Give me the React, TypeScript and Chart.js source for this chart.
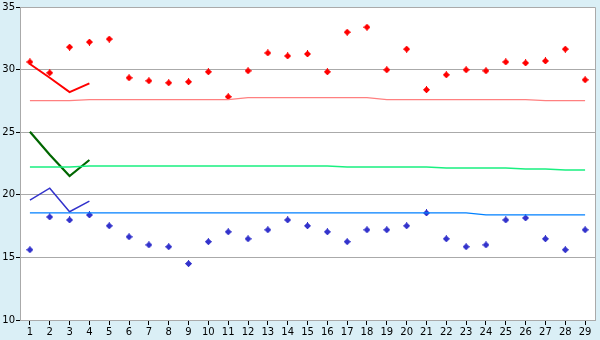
import React, { useEffect, useRef } from "react";
import { Chart, registerables } from "chart.js";

Chart.register(...registerables);

const categories = Array.from({ length: 29 }, (_, i) => String(i + 1));

const highValues = [30.61, 29.74, 31.8, 32.2, 32.44, 29.34, 29.1, 28.94, 29.02, 29.82, 27.83, 29.9, 31.33, 31.09, 31.25, 29.82, 32.99, 33.39, 29.98, 31.64, 28.39, 29.58, 29.98, 29.9, 30.61, 30.53, 30.69, 31.64, 29.18];
const lowValues = [15.61, 18.23, 17.99, 18.39, 17.52, 16.64, 16.0, 15.85, 14.5, 16.25, 17.04, 16.48, 17.2, 17.99, 17.52, 17.04, 16.25, 17.2, 17.2, 17.52, 18.55, 16.48, 15.85, 16.0, 17.99, 18.15, 16.48, 15.61, 17.2];
const highAvg = [27.52, 27.52, 27.52, 27.6, 27.6, 27.6, 27.6, 27.6, 27.6, 27.6, 27.6, 27.76, 27.76, 27.76, 27.76, 27.76, 27.76, 27.76, 27.6, 27.6, 27.6, 27.6, 27.6, 27.6, 27.6, 27.6, 27.52, 27.52, 27.52];
const meanAvg = [22.22, 22.22, 22.22, 22.3, 22.3, 22.3, 22.3, 22.3, 22.3, 22.3, 22.3, 22.3, 22.3, 22.3, 22.3, 22.3, 22.22, 22.22, 22.22, 22.22, 22.22, 22.14, 22.14, 22.14, 22.14, 22.06, 22.06, 21.98, 21.98];
const lowAvg = [18.55, 18.55, 18.55, 18.55, 18.55, 18.55, 18.55, 18.55, 18.55, 18.55, 18.55, 18.55, 18.55, 18.55, 18.55, 18.55, 18.55, 18.55, 18.55, 18.55, 18.55, 18.55, 18.55, 18.4, 18.4, 18.4, 18.4, 18.4, 18.4];
const highRecent = [30.45, 29.35, 28.2, 28.9];
const meanRecent = [25.03, 23.2, 21.5, 22.78];
const lowRecent = [19.58, 20.53, 18.65, 19.5];

function makeMarker(color: string) {
  const c = document.createElement("canvas");
  c.width = 7;
  c.height = 7;
  const ctx = c.getContext("2d")!;
  ctx.fillStyle = color;
  ctx.fillRect(2, 1, 3, 5);
  ctx.fillRect(1, 2, 5, 3);
  ctx.fillRect(3, 0, 1, 7);
  ctx.fillRect(0, 3, 7, 1);
  return c;
}

const bgPlugin = {
  id: "bg",
  beforeDraw(chart: any) {
    const { ctx, chartArea: a, width, height } = chart;
    ctx.save();
    ctx.fillStyle = "#DAEFF6";
    ctx.fillRect(0, 0, width, height);
    ctx.fillStyle = "#FFFFFF";
    ctx.fillRect(a.left, a.top, a.right - a.left, a.bottom - a.top);
    ctx.restore();
  },
  afterDraw(chart: any) {
    const { ctx, chartArea: a } = chart;
    ctx.save();
    ctx.strokeStyle = "#AAAAAA";
    ctx.lineWidth = 1;
    ctx.beginPath();
    ctx.moveTo(a.left, a.top + 0.5);
    ctx.lineTo(a.right + 0.5, a.top + 0.5);
    ctx.lineTo(a.right + 0.5, a.bottom);
    ctx.stroke();
    ctx.restore();
  },
};

export default function App() {
  const ref = useRef<HTMLCanvasElement>(null);
  useEffect(() => {
    const redMarker = makeMarker("#FF0000");
    const blueMarker = makeMarker("#3333CC");
    const chart = new Chart(ref.current!, {
      type: "line",
      data: {
        labels: categories,
        datasets: [
          { data: highAvg, borderColor: "#FF8080", borderWidth: 1.3, pointRadius: 0, tension: 0 },
          { data: meanAvg, borderColor: "#19F080", borderWidth: 1.3, pointRadius: 0, tension: 0 },
          { data: lowAvg, borderColor: "#0080FF", borderWidth: 1.3, pointRadius: 0, tension: 0 },
          { data: highRecent, borderColor: "#FF0000", borderWidth: 2, pointRadius: 0, tension: 0 },
          { data: meanRecent, borderColor: "#006600", borderWidth: 2.2, pointRadius: 0, tension: 0 },
          { data: lowRecent, borderColor: "#3333CC", borderWidth: 1.5, pointRadius: 0, tension: 0 },
          { data: highValues, showLine: false, pointStyle: redMarker as any, pointRadius: 3, borderColor: "#FF0000", backgroundColor: "#FF0000" },
          { data: lowValues, showLine: false, pointStyle: blueMarker as any, pointRadius: 3, borderColor: "#3333CC", backgroundColor: "#3333CC" },
        ],
      },
      options: {
        responsive: false,
        animation: false,
        layout: { padding: { top: 5, right: 5, left: 0, bottom: 0 } },
        plugins: { legend: { display: false }, tooltip: { enabled: false } },
        scales: {
          x: {
            offset: true,
            grid: { drawOnChartArea: false, offset: false, tickLength: 5, tickColor: "#000000" },
            border: { color: "#AAAAAA" },
            ticks: { color: "#000000", font: { family: "DejaVu Sans", size: 10 }, padding: 1, maxRotation: 0, autoSkip: false },
            afterFit: (s: any) => { s.height = 20; },
          },
          y: {
            min: 10,
            max: 35,
            grid: { color: "#AAAAAA", tickLength: 4, tickColor: "#000000" },
            border: { color: "#AAAAAA" },
            ticks: { stepSize: 5, color: "#000000", font: { family: "DejaVu Sans", size: 10 }, padding: 1 },
            afterFit: (s: any) => { s.width = 20; },
          },
        },
      },
      plugins: [bgPlugin],
    });
    return () => chart.destroy();
  }, []);
  return (
    <div style={{ position: "absolute", left: 0, top: 0, width: 600, height: 340 }}>
      <canvas ref={ref} width={600} height={340} />
    </div>
  );
}
